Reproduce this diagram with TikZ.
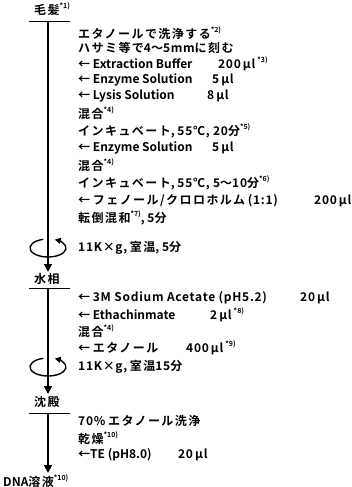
\documentclass[tikz,border=0pt]{standalone}
\usepackage{fontspec}
\setmainfont{Noto Sans CJK JP}[BoldFont={* Bold}]
\newfontfamily\jf{Noto Sans CJK JP}[BoldFont={* Bold},LetterSpace=12]
\newfontfamily\nf{Noto Sans CJK JP}[BoldFont={* Bold},LetterSpace=6]
\usetikzlibrary{arrows.meta}
\newcommand\J[1]{{\jf\bfseries\fontsize{12}{13}\selectfont #1}}
\newcommand\N[1]{{\nf\bfseries\fontsize{12}{13}\selectfont #1}}
\newcommand\fn[1]{\raisebox{0.9ex}{\fontsize{7}{7}\selectfont #1}}
\newcommand\lab[2]{\makebox[#1pt][l]{#2}}
\begin{document}
\begin{tikzpicture}[x=1pt,y=-1pt,
  txt/.style={anchor=west,inner sep=0pt,font=\bfseries\fontsize{12}{13}\selectfont},
  flow/.style={line width=1.8pt,-{Triangle[length=8pt,width=8pt]}},
  uline/.style={line width=1pt},
  rot/.style={line width=1.4pt,-{Triangle[length=6pt,width=6pt]}}]
\useasboundingbox (0,0) rectangle (352,487);
% headings
\node[txt] (h1) at (34,9) {\J{毛髪}\fn{*1)}};
\node[txt] (h2) at (34,279) {\J{水相}};
\node[txt] (h3) at (34,402) {\J{沈殿}};
\node[txt] (h4) at (3,481) {DNA\J{溶液}\fn{*10)}};
% underlines
\coordinate (u1a) at (29,22); \coordinate (u1b) at (70,22);
\coordinate (u2a) at (29,288); \coordinate (u2b) at (70,288);
\coordinate (u3a) at (29,413); \coordinate (u3b) at (70,413);
\draw[uline] (u1a) -- (u1b);
\draw[uline] (u2a) -- (u2b);
\draw[uline] (u3a) -- (u3b);
% flow arrows
\coordinate (s1) at (48,22); \coordinate (e1) at (48,272);
\coordinate (s2) at (48,288); \coordinate (e2) at (48,394);
\coordinate (s3) at (48,413); \coordinate (e3) at (48,473);
\draw[flow] (s1) -- (e1);
\draw[flow] (s2) -- (e2);
\draw[flow] (s3) -- (e3);
% centrifuge rotation symbols
\coordinate (c1) at (48,248);
\coordinate (c2) at (48,367);
\draw[rot] (c1) ++(-105:18 and 9) arc[start angle=-105,end angle=-428,x radius=18,y radius=9];
\draw[rot] (c2) ++(-105:18 and 9) arc[start angle=-105,end angle=-428,x radius=18,y radius=9];
% steps
\node[txt] (t1) at (78,33) {\J{エタノールで洗浄する}\fn{*2)}};
\node[txt] (t2) at (78,48) {\J{ハサミ等で}\N{4}\J{〜}\N{5mm}\J{に刻む}};
\node[txt] (t3) at (78,64) {\lab{140}{← Extraction Buffer}\N{200\,μl}\,\fn{*3)}};
\node[txt] (t4) at (78,80) {\lab{134}{← Enzyme Solution}\N{5\,μl}};
\node[txt] (t5) at (78,96) {\lab{129}{← Lysis Solution}\N{8\,μl}};
\node[txt] (t6) at (78,113) {\J{混合}\fn{*4)}};
\node[txt] (t7) at (78,131) {\J{インキュベート}, \N{55℃, 20}\J{分}\fn{*5)}};
\node[txt] (t8) at (78,148) {\lab{134}{← Enzyme Solution}\N{5\,μl}};
\node[txt] (t9) at (78,165) {\J{混合}\fn{*4)}};
\node[txt] (t10) at (78,183) {\J{インキュベート}, \N{55℃, 5}\J{〜}\N{10}\J{分}\fn{*6)}};
\node[txt] (t11) at (78,201) {\lab{236}{← \J{フェノール/クロロホルム} \N{(1:1)}}\N{200\,μl}};
\node[txt] (t12) at (78,218) {\J{転倒混和}\fn{*7)}, \N{5}\J{分}};
\node[txt] (t13) at (78,248) {\N{11K×g,} \J{室温}, \N{5}\J{分}};
\node[txt] (t14) at (78,298) {\lab{222}{← \N{3M Sodium Acetate (pH5.2)}}\N{20\,μl}};
\node[txt] (t15) at (78,315) {\lab{132}{← Ethachinmate}\N{2\,μl}\,\fn{*8)}};
\node[txt] (t16) at (78,331) {\J{混合}\fn{*4)}};
\node[txt] (t17) at (78,348) {\lab{108}{← \J{エタノール}}\N{400\,μl}\,\fn{*9)}};
\node[txt] (t18) at (78,367) {\N{11K×g,} \J{室温}\N{15}\J{分}};
\node[txt] (t19) at (78,421) {\N{70\%} \J{エタノール洗浄}};
\node[txt] (t20) at (78,438) {\J{乾燥}\fn{*10)}};
\node[txt] (t21) at (78,455) {\lab{100}{←TE (pH8.0)}\N{20\,μl}};
\end{tikzpicture}
\end{document}
